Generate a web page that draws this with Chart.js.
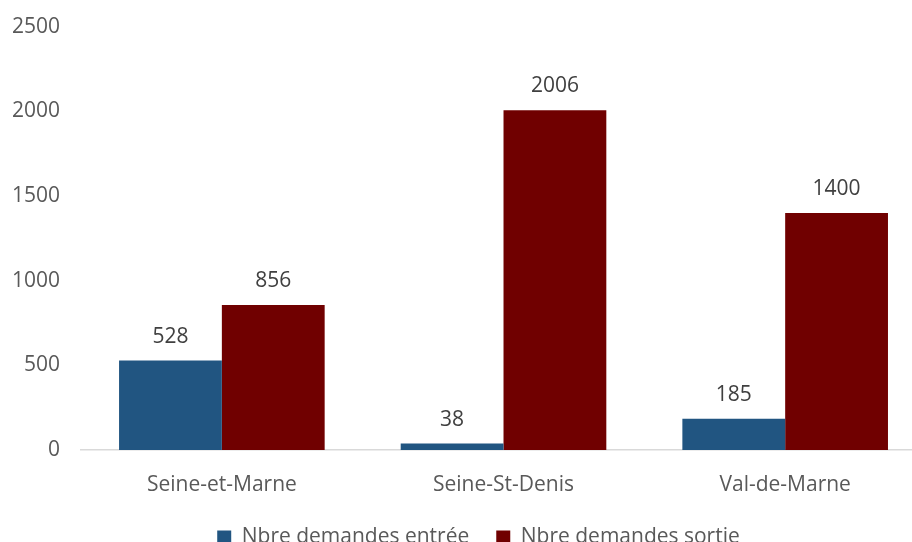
<!DOCTYPE html>
<html>
<head>
<meta charset="utf-8">
<script src="https://cdn.jsdelivr.net/npm/chart.js@4.4.1/dist/chart.umd.min.js"></script>
<style>
  html, body { margin: 0; padding: 0; background: #fff; overflow: hidden; }
  #wrap { width: 912px; height: 542px; overflow: hidden; position: relative; }
  #myChart { position: absolute; left: -9px; top: -7px; }
</style>
</head>
<body>
<div id="wrap"><canvas id="myChart" width="974" height="565"></canvas></div>
<script>
'use strict';

const departements = ['Seine-et-Marne', 'Seine-St-Denis', 'Val-de-Marne'];
const demandesEntree = [528, 38, 185];
const demandesSortie = [856, 2006, 1400];
const yTicks = [0, 500, 1000, 1500, 2000, 2500];

const textColor = '#595959';
const fontFamily = '"Open Sans", sans-serif';
const fontSize = 21;

// draws the value above each bar
const valueLabels = {
  id: 'valueLabels',
  afterDatasetsDraw(chart) {
    const ctx = chart.ctx;
    ctx.save();
    ctx.fillStyle = '#404040';
    ctx.font = fontSize + 'px ' + fontFamily;
    ctx.textAlign = 'center';
    ctx.textBaseline = 'middle';
    chart.data.datasets.forEach((ds, i) => {
      chart.getDatasetMeta(i).data.forEach((bar, j) => {
        ctx.fillText(ds.data[j], bar.x, bar.y - 24);
      });
    });
    ctx.restore();
  }
};

// the legend sits a bit right of the plot centre in the original
const legendShift = {
  id: 'legendShift',
  afterLayout(chart) {
    chart.legend.left += 20;
    chart.legend.right += 20;
  }
};

let canvasElem = document.getElementById('myChart').getContext('2d');

new Chart(canvasElem, {
  type: 'bar',
  data: {
    labels: departements,
    datasets: [{
      label: 'Nbre demandes entrée',
      data: demandesEntree,
      backgroundColor: '#215581',
      borderWidth: 0
    },
    {
      label: 'Nbre demandes sortie',
      data: demandesSortie,
      backgroundColor: '#700000',
      borderWidth: 0
    }]
  },
  options: {
    responsive: false,
    animation: false,
    layout: { padding: { left: 0, right: 39, top: 0, bottom: 0 } },
    datasets: { bar: { categoryPercentage: 0.73, barPercentage: 1.0 } },
    plugins: {
      tooltip: { enabled: false },
      legend: {
        position: 'bottom',
        labels: {
          color: textColor,
          font: { family: fontFamily, size: fontSize },
          boxWidth: 14,
          boxHeight: 14,
          padding: 27
        }
      }
    },
    scales: {
      x: {
        grid: { display: false, drawTicks: false },
        border: { color: '#d9d9d9', width: 1.5 },
        ticks: { color: textColor, font: { family: fontFamily, size: fontSize }, padding: 22 },
        afterFit: (axis) => { axis.height = 50; }
      },
      y: {
        min: 0,
        max: 2500,
        afterBuildTicks: (axis) => { axis.ticks = yTicks.map(v => ({ value: v })); },
        grid: { display: false, drawTicks: false },
        border: { display: false },
        ticks: {
          color: textColor,
          font: { family: fontFamily, size: fontSize },
          padding: 21,
          callback: (value) => String(value)
        }
      }
    }
  },
  plugins: [valueLabels, legendShift]
});
</script>
</body>
</html>
